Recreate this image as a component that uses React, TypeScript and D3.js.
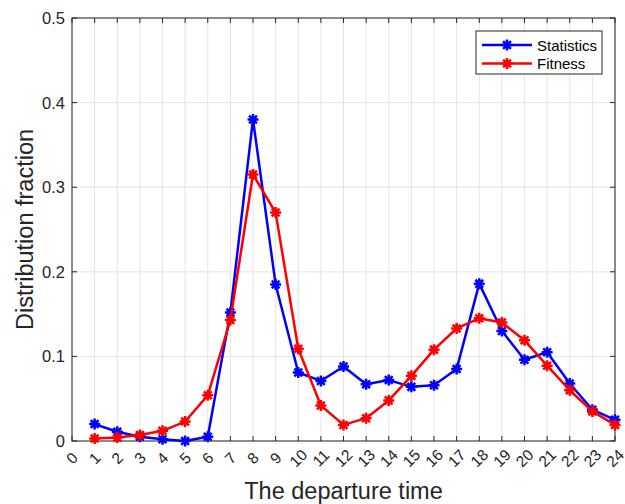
import React from 'react';
import * as d3 from 'd3';

const hours = d3.range(0, 25);
const xTicks = d3.range(0, 25);
const yTicks = [0, 0.1, 0.2, 0.3, 0.4, 0.5];

const statHours = d3.range(1, 25);
const statistics = [
  0.02, 0.011, 0.005, 0.002, 0.0, 0.005, 0.152, 0.38, 0.185, 0.081, 0.071, 0.088,
  0.067, 0.072, 0.064, 0.066, 0.085, 0.186, 0.13, 0.096, 0.105, 0.068, 0.037, 0.025,
];
const fitness = [
  0.003, 0.004, 0.007, 0.012, 0.023, 0.054, 0.143, 0.315, 0.27, 0.109, 0.042, 0.019,
  0.027, 0.048, 0.077, 0.108, 0.133, 0.145, 0.14, 0.119, 0.089, 0.06, 0.035, 0.019,
];

const seriesNames = ['Statistics', 'Fitness'];
const seriesColors = ['#0000ff', '#ff0000'];

const W = 625;
const H = 504;
const margin = { top: 18, right: 10, bottom: 63, left: 72 };
const FONT = "'Liberation Sans', Arial, Helvetica, sans-serif";

// 8-spoke asterisk like MATLAB's '*'
const star = (r: number) => {
  const d = r * Math.SQRT1_2;
  return `M${-r},0L${r},0M0,${-r}L0,${r}M${-d},${-d}L${d},${d}M${-d},${d}L${d},${-d}`;
};

const App = () => {
  const innerW = W - margin.left - margin.right;
  const innerH = H - margin.top - margin.bottom;

  const x = d3.scaleLinear().domain([0, 24]).range([0, innerW]);
  const y = d3.scaleLinear().domain([0, 0.5]).range([innerH, 0]);

  const line = d3
    .line<[number, number]>()
    .x((d) => x(d[0]))
    .y((d) => y(d[1]));

  const series = [statistics, fitness].map((vals) =>
    vals.map((v, i) => [statHours[i], v] as [number, number])
  );

  const axisColor = '#262626';
  const gridColor = '#e5e5e5';
  const tickLen = 5;

  return (
    <svg width={W} height={H} style={{ position: 'absolute', left: 0, top: 0, background: '#fff' }}>
      <rect width={W} height={H} fill="#fff" />
      <g transform={`translate(${margin.left},${margin.top})`} fontFamily={FONT}>
        {/* grid */}
        {hours.map((h) => (
          <line key={'gx' + h} x1={x(h)} x2={x(h)} y1={0} y2={innerH} stroke={gridColor} strokeWidth={1} />
        ))}
        {yTicks.map((t) => (
          <line key={'gy' + t} x1={0} x2={innerW} y1={y(t)} y2={y(t)} stroke={gridColor} strokeWidth={1} />
        ))}

        {/* ticks */}
        {xTicks.map((t) => (
          <g key={'tx' + t}>
            <line x1={x(t)} x2={x(t)} y1={innerH} y2={innerH - tickLen} stroke={axisColor} />
            <line x1={x(t)} x2={x(t)} y1={0} y2={tickLen} stroke={axisColor} />
            <text
              transform={`translate(${x(t)},${innerH + 17}) rotate(-45)`}
              textAnchor="middle"
              dominantBaseline="central"
              fontSize={15.5}
              fill={axisColor}
            >
              {t}
            </text>
          </g>
        ))}
        {yTicks.map((t) => (
          <g key={'ty' + t}>
            <line x1={0} x2={tickLen} y1={y(t)} y2={y(t)} stroke={axisColor} />
            <line x1={innerW} x2={innerW - tickLen} y1={y(t)} y2={y(t)} stroke={axisColor} />
            <text x={-7} y={y(t)} textAnchor="end" dominantBaseline="central" fontSize={16.5} fill={axisColor}>
              {t === 0 ? '0' : d3.format('.1f')(t)}
            </text>
          </g>
        ))}

        {/* box */}
        <rect x={0} y={0} width={innerW} height={innerH} fill="none" stroke={axisColor} strokeWidth={1} />

        {/* series */}
        {series.map((pts, si) => (
          <g key={'s' + si}>
            <path d={line(pts) || ''} fill="none" stroke={seriesColors[si]} strokeWidth={2.5} strokeLinejoin="round" />
            {pts.map((p, i) => (
              <path
                key={i}
                transform={`translate(${x(p[0])},${y(p[1])})`}
                d={star(5.5)}
                stroke={seriesColors[si]}
                strokeWidth={2.5}
                fill="none"
              />
            ))}
          </g>
        ))}

        {/* legend */}
        <g transform={`translate(${innerW - 139},13)`}>
          <rect x={0} y={0} width={126} height={43} fill="#fff" stroke={axisColor} strokeWidth={1} />
          {seriesNames.map((name, i) => (
            <g key={name} transform={`translate(0,${14 + i * 18.5})`}>
              <line x1={6} x2={56} y1={0} y2={0} stroke={seriesColors[i]} strokeWidth={2.5} />
              <path transform="translate(31,0)" d={star(5.5)} stroke={seriesColors[i]} strokeWidth={2.5} />
              <text x={61} y={0} dominantBaseline="central" fontSize={15} fill="#000">
                {name}
              </text>
            </g>
          ))}
        </g>

        {/* axis titles */}
        <text
          x={innerW / 2}
          y={innerH + 58}
          textAnchor="middle"
          fontSize={23.5}
          fill={axisColor}
        >
          The departure time
        </text>
        <text
          transform={`translate(-39,${innerH / 2}) rotate(-90)`}
          textAnchor="middle"
          fontSize={23.5}
          fill={axisColor}
        >
          Distribution fraction
        </text>
      </g>
    </svg>
  );
};

export default App;
